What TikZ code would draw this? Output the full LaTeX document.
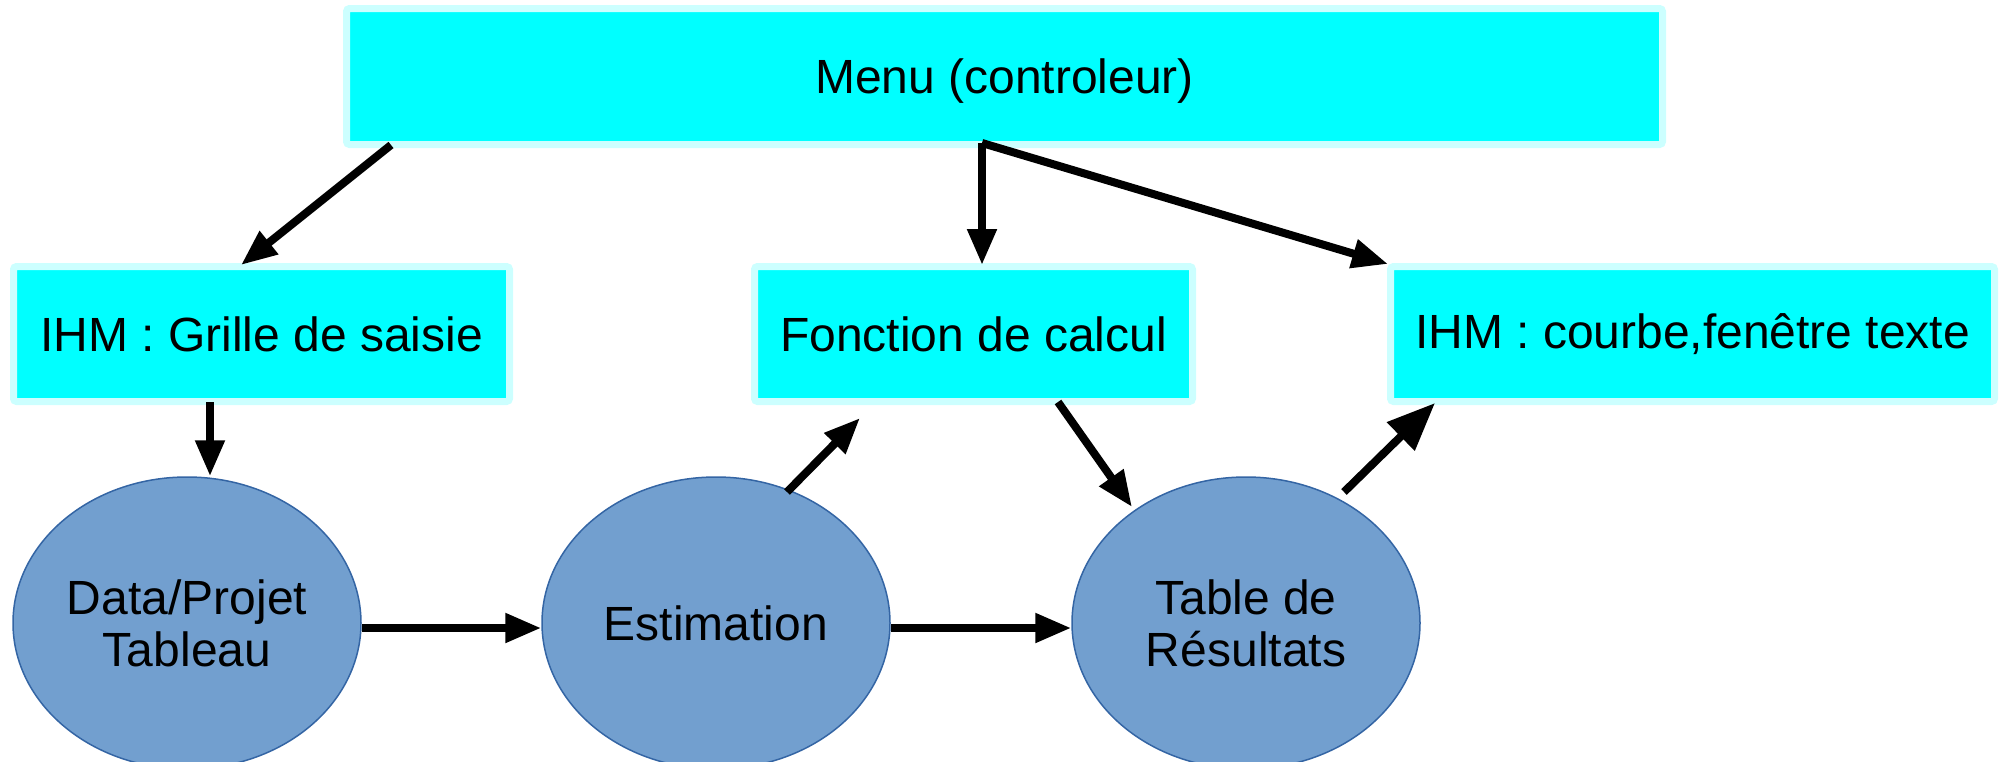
\documentclass[tikz,border=0pt]{standalone}
\usepackage{fontspec}
\setmainfont{Liberation Sans}
\usetikzlibrary{arrows.meta,calc,shapes.geometric}
\definecolor{boxcyan}{HTML}{00FFFF}
\definecolor{boxrim}{HTML}{CCFFFF}
\definecolor{blobfill}{HTML}{729FCF}
\definecolor{blobrim}{HTML}{3465A4}

\begin{document}
\begin{tikzpicture}[x=1pt,y=-1pt,->,>={Triangle[length=36pt,width=28pt]},
                line width=8pt,
                box node/.style={rectangle,draw=boxrim,fill=boxcyan,line width=7pt,
                  rounded corners=3pt,minimum height=135pt,inner sep=0pt,
                  font=\fontsize{48}{54}\selectfont},
                blob node/.style={ellipse,draw=blobrim,fill=blobfill,line width=1.5pt,
                  minimum width=348pt,minimum height=292pt,inner sep=0pt,align=center,
                  font=\fontsize{48}{52}\selectfont}]
  \useasboundingbox (0,0) rectangle (2006,761);

  \node[box node,minimum width=1316pt,minimum height=136pt,text depth=0pt] (menu) at (1004.5,76.5) {Menu (controleur)};
  \node[box node,minimum width=496pt] (grille) at (261.5,334) {IHM : Grille de saisie};
  \node[box node,minimum width=438pt] (calcul) at (973.5,334) {Fonction de calcul};
  \node[box node,minimum width=604pt] (courbe) at (1692.5,334) {IHM : courbe,fenêtre texte};

  \node[blob node] (data) at (187,623) {Data/Projet\\Tableau};
  \node[blob node] (estim) at (716,623) {Estimation};
  \node[blob node] (table) at (1246,623) {Table de\\Résultats};

  \path
    ($(menu.south west)+(48,-3)$) edge ($(grille.north west)+(231,2)$)
    ($(menu.south)+(-22.5,-5)$) edge ($(calcul.north)+(8.5,2)$)
    ($(menu.south)+(-22.5,-5)$) edge ($(courbe.north west)+(1,1)$)
    ($(grille.south)+(-51.5,-3)$) edge ($(data.north)+(23,0)$)
    ($(data.east)+(0,5)$) edge ($(estim.west)+(0,5)$)
    ($(estim.east)+(0,5)$) edge ($(table.west)+(0,5)$)
    ($(estim.center)+(71,-131)$) edge ($(calcul.south west)+(109,13)$)
    ($(calcul.south west)+(307,-3)$) edge ($(table.center)+(-114,-116)$)
    ($(table.center)+(98,-131)$) edge [>={Triangle[length=48pt,width=38pt]}] ($(courbe.south west)+(48,-2)$);
\end{tikzpicture}
\end{document}
